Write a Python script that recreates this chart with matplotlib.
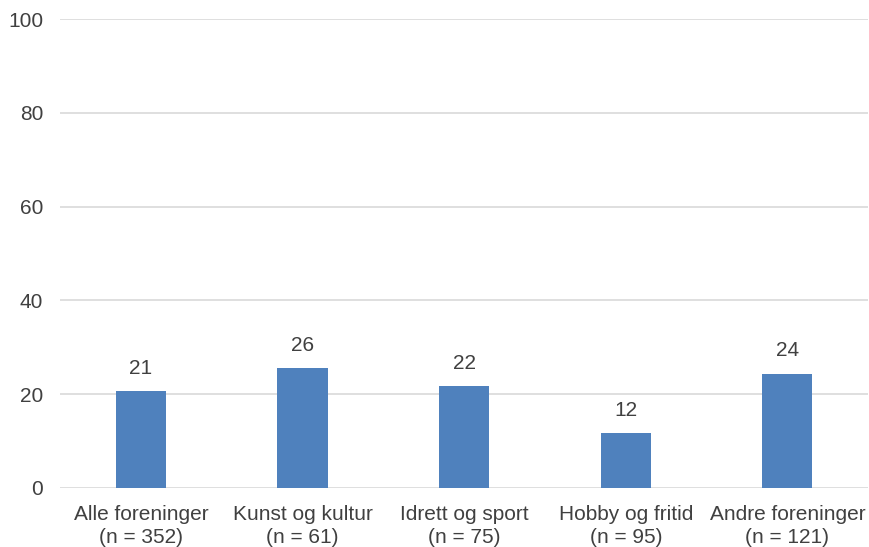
import numpy as np
import matplotlib
matplotlib.use("Agg")
import matplotlib.pyplot as plt

plt.rcParams['font.family'] = ['Liberation Sans', 'DejaVu Sans']

categories = ["Alle foreninger\n(n = 352)", "Kunst og kultur\n(n = 61)",
              "Idrett og sport\n(n = 75)", "Hobby og fritid\n(n = 95)",
              "Andre foreninger\n(n = 121)"]
values = [20.7, 25.6, 21.8, 11.7, 24.4]
yticks = [0, 20, 40, 60, 80, 100]

text_color = "#404040"
bar_color = "#4F81BD"

fig = plt.figure(figsize=(8.7, 5.47), dpi=100)
ax = fig.add_axes([0.069, 0.108, 0.929, 0.857])

x = np.arange(len(categories))
bars = ax.bar(x, values, width=0.31, color=bar_color, zorder=3)
for b, v in zip(bars, values):
    ax.text(b.get_x() + b.get_width() / 2, v + 2.8, f"{round(v):d}",
            ha="center", va="bottom", fontsize=15, color=text_color)

ax.set_xlim(-0.5, len(categories) - 0.5)
ax.set_ylim(0, 100)
ax.set_yticks(yticks)
ax.set_xticks(x)
ax.set_xticklabels(categories, fontsize=15, color=text_color, linespacing=1.3)
ax.tick_params(axis="y", labelsize=15, labelcolor=text_color, length=0, pad=12)
ax.tick_params(axis="x", length=0, pad=12)
ax.grid(axis="y", color="#d9d9d9", linewidth=1.2, zorder=0)
for s in ax.spines.values():
    s.set_visible(False)

fig.savefig("out.png", dpi=100)
